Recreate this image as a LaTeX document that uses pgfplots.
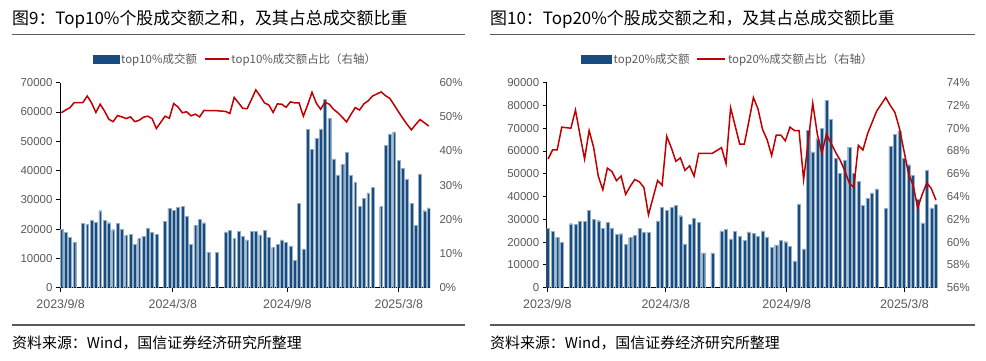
\documentclass[border=0pt]{standalone}
\usepackage{pgfplots}
\pgfplotsset{compat=1.18}
\usepackage{pgfplotstable}
\usepackage{fontspec}
\setmainfont{Noto Sans CJK SC}
\newfontfamily\arial{Liberation Sans}
\definecolor{barblue}{RGB}{22,76,128}
\definecolor{linered}{RGB}{192,0,0}
\definecolor{ticktext}{RGB}{89,89,89}
\definecolor{rulegray}{RGB}{90,90,90}

\pgfplotstableread{
w v
0 19900
1 18900
2 17300
3 15500
5 22000
6 21700
7 22900
8 22300
9 26300
10 23000
11 22200
12 19800
13 22000
14 20000
15 17900
16 18300
17 14800
18 16800
19 17600
20 20300
21 18800
22 18200
24 22600
25 27200
26 26500
27 27500
28 27700
29 24400
30 14800
31 21400
32 23400
33 22200
34 12100
36 12100
38 19100
39 19600
40 16800
41 19200
42 17600
43 16300
44 19200
45 19200
46 18000
47 19700
48 17300
49 13800
50 14700
51 16300
52 15600
53 14300
54 9400
55 28800
56 13300
57 54000
58 47200
59 51000
60 54200
61 64400
62 57800
63 44000
64 38500
65 42200
66 46300
67 38400
68 36000
69 27700
70 30500
71 32400
72 34300
74 27700
75 48500
76 52500
77 53200
78 43600
79 40700
80 37000
81 28800
82 21400
83 38900
84 26300
85 27300
}\barsA

\pgfplotstableread{
w p
0 51.2
1 52.0
2 52.7
3 54.2
5 54.2
6 56.1
7 54.1
8 51.3
9 53.7
10 51.7
11 49.3
12 48.6
13 50.4
14 50.0
15 49.5
16 50.0
17 48.6
18 49.0
19 49.9
20 50.2
21 49.5
22 46.6
24 50.2
25 49.6
26 53.9
27 52.9
28 51.2
29 51.5
30 50.3
31 50.8
32 50.0
33 51.9
34 51.8
36 51.8
38 51.6
39 51.0
40 55.7
41 54.1
42 52.5
43 52.4
44 55.1
45 57.9
46 56.1
47 54.1
48 53.5
49 51.3
50 53.8
51 53.7
52 52.8
53 54.4
54 54.1
55 54.1
56 50.2
57 53.5
58 57.2
59 54.0
60 52.2
61 54.3
62 53.7
63 52.2
64 51.2
65 49.9
66 48.5
67 50.7
68 52.7
69 52.0
70 53.8
71 54.7
72 56.1
74 57.3
75 56.2
76 55.4
77 53.5
78 51.5
79 49.6
80 47.8
81 46.2
82 47.8
83 49.2
84 48.3
85 47.3
}\lineA

\pgfplotstableread{
w v
0 26100
1 24600
2 22100
3 19800
5 28100
6 27700
7 29300
8 29100
9 33900
10 30100
11 29400
12 26200
13 28700
14 26200
15 23400
16 23700
17 19100
18 22000
19 22900
20 26100
21 24300
22 24200
24 29300
25 35400
26 34100
27 35200
28 36100
29 31600
30 19200
31 27800
32 30600
33 28700
34 15300
36 15300
38 24900
39 25500
40 21400
41 24600
42 22600
43 20800
44 24500
45 23900
46 22600
47 25000
48 22300
49 17800
50 18800
51 20800
52 20200
53 18200
54 11800
55 36800
56 17000
57 69200
58 59600
59 65400
60 70000
61 82400
62 74000
63 56900
64 50100
65 55800
66 61700
67 50100
68 46600
69 36100
70 39200
71 41600
72 43400
74 34800
75 62000
76 67400
77 68900
78 56900
79 54000
80 49400
81 39000
82 28500
83 51600
84 35000
85 36600
}\barsB

\pgfplotstableread{
w p
0 67.3
1 68.1
2 68.1
3 70.1
5 70.0
6 71.6
7 69.4
8 67.3
9 69.8
10 68.3
11 65.8
12 64.6
13 66.5
14 66.2
15 65.4
16 65.8
17 64.2
18 64.9
19 65.5
20 65.3
21 64.8
22 62.4
24 65.4
25 65.0
26 69.3
27 68.3
28 67.1
29 67.4
30 66.3
31 66.7
32 65.8
33 67.8
34 67.8
36 67.8
38 68.3
39 66.9
40 71.8
41 70.2
42 68.6
43 68.6
44 70.6
45 72.7
46 71.7
47 69.9
48 69.0
49 67.6
50 69.4
51 69.4
52 68.9
53 70.1
54 69.8
55 69.8
56 65.5
57 68.8
58 72.2
59 69.5
60 67.8
61 69.5
62 68.7
63 67.9
64 67.2
65 66.3
66 65.2
67 64.8
68 68.5
69 68.1
70 69.5
71 70.5
72 71.5
74 72.7
75 72.0
76 71.4
77 70.0
78 68.0
79 66.0
80 65.0
81 63.0
82 64.2
83 65.2
84 64.7
85 63.7
}\lineB

\pgfplotsset{
  tickfont/.style={font=\arial\fontsize{11.5}{13}\selectfont, text=ticktext},
  baseaxis/.style={
    scale only axis, height=205bp,
    xmin=-0.3, xmax=85.3,
    scaled y ticks=false,
    /pgf/number format/assume math mode=true,
    /pgf/number format/1000 sep={},
    /pgf/number format/fixed,
    tick label style={tickfont},
  },
  leftaxis/.style={
    baseaxis,
    axis x line*=bottom, axis y line*=left,
    axis line style={black, line width=0.9bp},
    tick style={black, line width=0.9bp},
    tick align=outside, major tick length=4bp,
    xtick={-0.15,25.8,52.3,78.1},
    xticklabels={2023/9/8,2024/3/8,2024/9/8,2025/3/8},
    xticklabel style={yshift=-4bp, font=\arial\fontsize{12.5}{14}\selectfont},
    ymin=0,
    legend style={draw=none, fill=none, legend columns=2, anchor=center,
      font=\fontsize{11.5}{13}\selectfont, text=ticktext,
      /tikz/every even column/.append style={column sep=5bp},
      inner sep=0pt},
    legend cell align=left,
  },
  rightaxis/.style={
    baseaxis,
    axis x line=none, axis y line*=right,
    y axis line style={draw=none},
    major tick length=0pt,
    yticklabel={\pgfmathprintnumber{\tick}\%},
    yticklabel style={xshift=6bp},
  },
}

\begin{document}
\begin{tikzpicture}
\path[use as bounding box] (0,0) rectangle (986bp,-361bp);

% ---------- left panel ----------
\node[anchor=west, inner sep=0pt] at (12bp,-19.5bp) {\fontsize{17}{20}\selectfont 图9：Top10\%个股成交额之和，及其占总成交额比重};
\draw[rulegray, line width=1.3bp] (12bp,-34.5bp) -- (465bp,-34.5bp);
\draw[rulegray, line width=1.3bp] (12bp,-325bp) -- (465bp,-325bp);
\node[anchor=west, inner sep=0pt] at (12bp,-343bp) {\fontsize{15}{18}\selectfont 资料来源：Wind，国信证券经济研究所整理};

\begin{axis}[leftaxis, at={(60bp,-287.7bp)}, anchor=south west, width=370bp,
  ymax=70000, ytick={0,10000,...,70000},
  legend style={at={(0.474,1.115)}}]
  \addlegendimage{legend image code/.code={\fill[barblue] (0bp,-4bp) rectangle (26bp,4bp);}}
  \addlegendentry{top10\%成交额}
  \addlegendimage{legend image code/.code={\draw[linered, line width=1.5bp] (0bp,0bp) -- (24bp,0bp);}}
  \addlegendentry{top10\%成交额占比（右轴）}
  \addplot[ybar, bar width=0.66, fill=barblue, draw=barblue!45!white, line width=0.35bp, forget plot] table[x=w, y=v] {\barsA};
\end{axis}
\begin{axis}[rightaxis, at={(60bp,-287.7bp)}, anchor=south west, width=370bp,
  ymin=0, ymax=60, ytick={0,10,...,60}]
  \addplot[linered, line width=1.5bp, mark=none] table[x=w, y=p] {\lineA};
\end{axis}

% ---------- right panel ----------
\node[anchor=west, inner sep=0pt] at (490bp,-19.5bp) {\fontsize{17}{20}\selectfont 图10：Top20\%个股成交额之和，及其占总成交额比重};
\draw[rulegray, line width=1.3bp] (490bp,-34.5bp) -- (975bp,-34.5bp);
\draw[rulegray, line width=1.3bp] (490bp,-325bp) -- (975bp,-325bp);
\node[anchor=west, inner sep=0pt] at (490bp,-343bp) {\fontsize{15}{18}\selectfont 资料来源：Wind，国信证券经济研究所整理};

\begin{axis}[leftaxis, at={(546.7bp,-287.7bp)}, anchor=south west, width=390.6bp,
  ymax=90000, ytick={0,10000,...,90000},
  legend style={at={(0.464,1.115)}}]
  \addlegendimage{legend image code/.code={\fill[barblue] (0bp,-4bp) rectangle (30bp,4bp);}}
  \addlegendentry{top20\%成交额}
  \addlegendimage{legend image code/.code={\draw[linered, line width=1.5bp] (0bp,0bp) -- (28bp,0bp);}}
  \addlegendentry{top20\%成交额占比（右轴）}
  \addplot[ybar, bar width=0.66, fill=barblue, draw=barblue!45!white, line width=0.35bp, forget plot] table[x=w, y=v] {\barsB};
\end{axis}
\begin{axis}[rightaxis, at={(546.7bp,-287.7bp)}, anchor=south west, width=390.6bp,
  ymin=56, ymax=74, ytick={56,58,...,74}]
  \addplot[linered, line width=1.5bp, mark=none] table[x=w, y=p] {\lineB};
\end{axis}
\end{tikzpicture}
\end{document}
